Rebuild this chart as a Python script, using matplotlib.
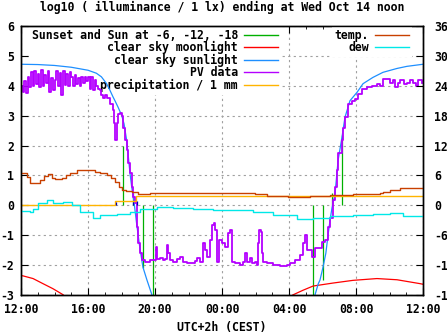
import matplotlib
matplotlib.use("Agg")
import matplotlib.pyplot as plt
from matplotlib.lines import Line2D

plt.rcParams['font.family'] = ['DejaVu Sans Mono']
plt.rcParams['font.weight'] = 'bold'
plt.rcParams['font.size'] = 8.3
plt.rcParams['axes.unicode_minus'] = False

# all times are hours after 12:00 (Oct 13), left axis = log10(lx)
tick_pos = [0, 4, 8, 12, 16, 20, 24]
tick_labels = ["12:00", "16:00", "20:00", "00:00", "04:00", "08:00", "12:00"]

# sunset / sun at -6, -12, -18 (impulses)
event_t = [6.09, 6.69, 7.28, 7.88, 17.43, 18.03, 18.57, 19.16]
event_v = [2.0, 0.4, -2.1, -3.2, -3.2, -2.5, 0.4, 2.34]

# clear sky moonlight
moon_t1 = [0.0, 0.12, 0.72, 1.31, 1.91, 2.51, 2.7]
moon_v1 = [-2.35, -2.36, -2.45, -2.62, -2.79, -2.99, -3.1]
moon_t2 = [16.1, 16.22, 16.84, 17.44, 18.63, 19.82, 21.25, 22.45, 23.82, 24.0]
moon_v2 = [-3.1, -3.0, -2.84, -2.70, -2.60, -2.51, -2.45, -2.49, -2.62, -2.64]

# clear sky sunlight
sun_t1 = [0.0, 1.0, 2.0, 3.0, 4.0, 4.5, 4.8, 5.1, 5.31, 5.5, 5.61, 5.79, 6.01, 6.15,
          6.31, 6.41, 6.51, 6.61, 6.75, 6.9, 7.1, 7.28, 7.52, 7.82, 7.95]
sun_v1 = [4.72, 4.71, 4.68, 4.62, 4.52, 4.42, 4.3, 4.08, 3.85, 3.62, 3.5, 3.29, 3.01, 2.73,
          2.17, 1.62, 1.06, 0.61, 0.1, -0.6, -1.44, -2.07, -2.5, -3.0, -3.2]
sun_t2 = [17.35, 17.55, 17.75, 17.85, 18.03, 18.2, 18.33, 18.45, 18.57, 18.75, 18.93, 19.16,
          19.34, 19.64, 20.06, 20.42, 21.01, 21.61, 22.45, 23.04, 24.0]
sun_v2 = [-3.2, -3.0, -2.62, -2.5, -2.07, -1.6, -1.0, -0.5, -0.07, 0.4, 1.5, 2.27,
          2.94, 3.5, 3.78, 4.07, 4.28, 4.45, 4.58, 4.65, 4.72]

# PV data
pv_t = [0.0, 0.1, 0.2, 0.3, 0.4, 0.5, 0.6, 0.7, 0.8, 0.9, 1.0, 1.1, 1.2, 1.3, 1.4, 1.5,
        1.6, 1.7, 1.8, 1.9, 2.0, 2.1, 2.2, 2.3, 2.4, 2.5, 2.6, 2.7, 2.8, 2.9, 3.0, 3.1,
        3.2, 3.3, 3.4, 3.5, 3.6, 3.7, 3.8, 3.9, 4.0, 4.1, 4.2, 4.3, 4.4, 4.5,
        4.60, 4.72, 4.80, 4.90, 5.01, 5.13, 5.31, 5.49, 5.55, 5.61, 5.73, 5.76, 5.79,
        5.91, 6.03, 6.09, 6.21, 6.33, 6.39, 6.51, 6.63, 6.69, 6.81, 6.93, 6.99, 7.10,
        7.22, 7.40, 7.52, 7.70, 7.82, 8.06, 8.12, 8.30, 8.48, 8.60, 8.72, 8.78, 8.90,
        9.07, 9.31, 9.49, 9.67, 9.91, 10.09, 10.39, 10.51, 10.69, 10.87, 10.99, 11.10,
        11.28, 11.40, 11.52, 11.58, 11.70, 11.82, 12.00, 12.18, 12.36, 12.48, 12.60,
        12.78, 13.07, 13.25, 13.37, 13.49, 13.67, 13.79, 13.97, 14.09, 14.15, 14.21,
        14.33, 14.39, 14.45, 14.69, 14.87, 15.04, 15.46, 15.88, 16.06, 16.36, 16.66,
        16.84, 16.96, 17.07, 17.25, 17.37, 17.55, 17.85, 17.97, 18.15, 18.27, 18.33,
        18.45, 18.63, 18.75, 18.87, 18.93, 19.16, 19.22, 19.34, 19.52, 19.76, 19.94,
        20.12, 20.36, 20.66, 20.96, 21.25, 21.43, 21.61, 21.73, 22.03, 22.21, 22.33,
        22.51, 22.63, 22.87, 23.04, 23.22, 23.40, 23.58, 23.70, 23.94]
pv_v = [4.0, 3.8, 4.15, 3.75, 4.3, 3.95, 4.45, 3.98, 4.5, 4.05, 4.4, 3.95, 4.52, 4.0, 4.35, 4.1,
        4.48, 3.8, 4.25, 3.85, 4.2, 4.5, 4.0, 4.42, 3.7, 4.48, 4.02, 4.4, 3.98, 4.45, 4.3, 4.0,
        4.35, 4.05, 4.25, 4.0, 4.3, 4.1, 4.28, 4.15, 4.3, 3.9, 4.28, 3.85, 4.2, 4.0,
        3.9, 3.85, 3.68, 3.6, 3.7, 3.6, 3.4, 3.18, 2.74, 2.17, 2.17, 2.74, 3.07,
        3.1, 3.0, 2.6, 2.17, 1.84, 1.4, 1.07, 0.6, 0.27, 0.07, -0.74, -1.27, -1.6,
        -1.84, -1.9, -1.9, -1.84, -1.84, -1.4, -1.8, -1.77, -1.84, -1.8, -1.34, -1.6, -1.84,
        -1.9, -1.8, -1.74, -1.9, -1.92, -1.94, -1.85, -1.77, -1.9, -1.27, -1.5, -1.74,
        -1.17, -0.67, -0.6, -0.84, -1.9, -1.17, -1.27, -1.4, -0.94, -0.84, -1.9,
        -1.94, -2.0, -1.9, -1.6, -1.9, -1.77, -1.94, -1.9, -2.0, -1.27, -0.84,
        -0.9, -1.6, -1.9, -1.94, -1.94, -2.0, -2.04, -2.0, -1.94, -1.84, -1.67,
        -1.27, -1.0, -1.5, -1.5, -1.74, -1.44, -1.44, -1.24, -1.17, -1.17, -0.74,
        -0.44, 0.17, 0.6, 1.17, 1.74, 2.17, 2.6, 2.94, 3.4, 3.5, 3.57,
        3.74, 3.9, 3.95, 4.0, 4.07, 4.0, 4.24, 4.24, 4.1, 4.18, 3.95,
        4.1, 4.18, 4.05, 4.1, 4.2, 4.1, 4.0, 4.18, 4.1]

# precipitation / 1 mm (cumulative) and rain events
rain_t = [0.0, 5.6, 6.87, 24.0]
rain_v = [0.0, 0.13, 0.3, 0.3]
drop_t = [5.70, 6.66, 6.94]
drop_v = [0.12, 0.12, 0.15]

# temperature and dew point, deg C (right axis)
temp_t = [0.0, 0.34, 0.54, 0.84, 1.13, 1.37, 1.61, 1.85, 2.03, 2.43, 2.69, 2.93, 3.33, 3.82,
          4.12, 4.42, 4.72, 5.12, 5.37, 5.61, 5.85, 6.01, 6.27, 6.61, 7.0, 7.7, 10.69,
          13.07, 13.97, 14.69, 15.94, 17.25, 18.45, 19.82, 21.43, 21.61, 22.03, 22.63,
          23.04, 24.0]
temp_v = [6.4, 5.7, 4.4, 4.4, 5.0, 5.9, 6.2, 5.5, 5.3, 5.5, 6.0, 6.5, 7.0, 7.1,
          7.1, 6.7, 6.4, 6.0, 5.5, 4.7, 3.6, 3.1, 2.8, 2.6, 2.3, 2.5, 2.5,
          2.4, 2.3, 1.9, 1.7, 1.8, 2.0, 2.3, 2.4, 2.6, 3.0, 3.4,
          3.5, 3.5]
dew_t = [0.0, 0.54, 0.72, 1.01, 1.53, 1.91, 2.51, 3.03, 3.52, 4.30, 4.72, 5.71, 6.51, 7.10,
         8.10, 9.07, 10.27, 11.46, 13.07, 13.85, 15.04, 16.48, 17.43, 18.45, 19.82, 21.01,
         22.03, 22.81, 24.0]
dew_v = [-1.1, -1.3, -0.8, 0.4, 1.0, 0.4, 0.7, 0.0, -1.3, -2.5, -2.0, -1.7, -1.3, -0.7,
         -0.4, -0.5, -0.7, -1.0, -1.0, -1.4, -2.0, -2.7, -2.5, -2.2, -2.0, -1.7,
         -1.6, -2.2, -2.2]

c_green, c_red, c_blue, c_pv = '#00b000', '#ff0000', '#1e8fff', '#b400ff'
c_rain, c_temp, c_dew = '#ffb400', '#c84000', '#00e8e8'

fig = plt.figure(figsize=(4.47, 3.35), dpi=100)
ax = fig.add_axes([21 / 447, 40 / 335, 402 / 447, 269 / 335])
ax2 = ax.twinx()

ax.vlines(event_t, 0, event_v, color=c_green, lw=0.9)
ax.plot(moon_t1, moon_v1, color=c_red, lw=0.9)
ax.plot(moon_t2, moon_v2, color=c_red, lw=0.9)
ax.plot(sun_t1, sun_v1, color=c_blue, lw=0.9)
ax.plot(sun_t2, sun_v2, color=c_blue, lw=0.9)
ax.plot(pv_t, pv_v, color=c_pv, lw=1.3, drawstyle='steps-post')
ax.plot(rain_t, rain_v, color=c_rain, lw=1.0, drawstyle='steps-post')
ax.vlines(drop_t, 0, drop_v, color='#0000b0', lw=0.9)
ax2.plot(temp_t, temp_v, color=c_temp, lw=1.0, drawstyle='steps-post')
ax2.plot(dew_t, dew_v, color=c_dew, lw=1.0, drawstyle='steps-post')

ax.set_xlim(0, 24)
ax.set_ylim(-3, 6)
ax2.set_ylim(-18, 36)
ax.set_xticks(tick_pos)
ax.set_xticklabels(tick_labels)
ax.set_xticks(range(25), minor=True)
ax.set_yticks(range(-3, 7))
ax2.set_yticks(range(-18, 37, 6))

ax.set_axisbelow(True)
ax.grid(True, which='major', color='#a0a0a0', linestyle=(0, (2, 3)), linewidth=0.8)
ax.tick_params(axis='x', which='both', direction='in', top=True, pad=5.5)
ax.tick_params(axis='x', which='major', length=5)
ax.tick_params(axis='x', which='minor', length=2.5)
ax.tick_params(axis='y', direction='in', length=5, pad=5)
ax2.tick_params(axis='y', direction='in', length=5, pad=8)
for a in (ax, ax2):
    for s in a.spines.values():
        s.set_linewidth(1.0)

h_left = [Line2D([], [], color=c, lw=1.0) for c in (c_green, c_red, c_blue, c_pv, c_rain)]
leg = ax.legend(h_left, ["Sunset and Sun at -6, -12, -18", "clear sky moonlight",
                         "clear sky sunlight", "PV data", "precipitation / 1 mm"],
                loc='upper right', bbox_to_anchor=(281 / 447, 1 - 26 / 335),
                bbox_transform=fig.transFigure, borderaxespad=0, borderpad=0.25,
                labelspacing=-0.05, handlelength=3.0, handletextpad=0.5,
                markerfirst=False, fancybox=False, facecolor='white',
                edgecolor='none', framealpha=1)
leg.set_zorder(1)

h_right = [Line2D([], [], color=c, lw=1.0) for c in (c_temp, c_dew)]
leg2 = ax2.legend(h_right, ["temp.", "dew"], loc='upper right',
                  bbox_to_anchor=(412 / 447, 1 - 26 / 335),
                  bbox_transform=fig.transFigure, borderaxespad=0, borderpad=0.25,
                  labelspacing=-0.05, handlelength=3.0, handletextpad=0.5,
                  markerfirst=False, fancybox=False, facecolor='white',
                  edgecolor='none', framealpha=1)
leg2.set_zorder(1)

fig.text(222 / 447, 1 - 7.5 / 335, "log10 ( illuminance / 1 lx) ending at Wed Oct 14 noon",
         ha='center', va='center')
fig.text(222 / 447, 1 - 328 / 335, "UTC+2h (CEST)", ha='center', va='center')

fig.savefig("out.png", dpi=100)
